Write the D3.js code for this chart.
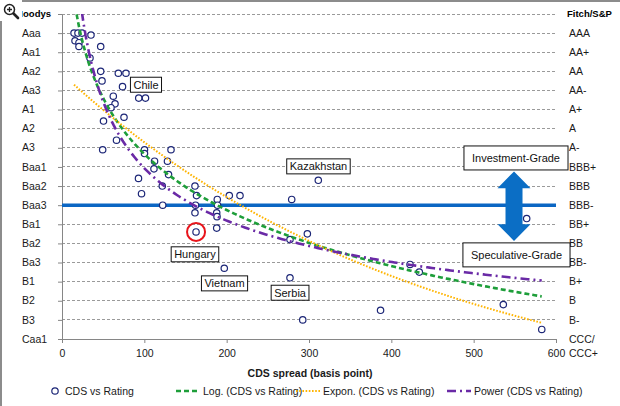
<!DOCTYPE html>
<html>
<head>
<meta charset="utf-8">
<script src="https://cdn.jsdelivr.net/npm/d3@7/dist/d3.min.js"></script>
<style>
body{margin:0;background:#fff;}
svg{display:block;font-family:"Liberation Sans",Arial,sans-serif;}
</style>
</head>
<body>
<svg id="chart" width="620" height="406"></svg>
<script>
var ratingLevels = [21,20,19,18,17,16,15,14,13,12,11,10,9,8,7,6,5,4];
var moodysLabels = ['Moodys','Aaa','Aa1','Aa2','Aa3','A1','A2','A3','Baa1','Baa2','Baa3','Ba1','Ba2','Ba3','B1','B2','B3','Caa1'];
var fitchLabels = ['Fitch/S&P','AAA','AA+','AA','AA-','A+','A','A-','BBB+','BBB','BBB-','BB+','BB','BB-','B+','B','B-','CCC/|CCC+'];
var xTicks = [0,100,200,300,400,500,600];

var cdsSpread = [14.6,19.4,24.3,35.2,15.8,20.6,20.6,47.0,34.0,47.0,
    68.4,77.7,48.6,73.5,62.3,93.2,101.4,64.4,59.5,75.3,
    50.4,66.2,49.4,100.2,132.4,100.2,112.4,128.1,111.7,129.4,
    92.9,121.8,161.5,96.6,163.4,188.6,203.2,216.2,279.0,311.3,
    122.3,162.2,188.9,161.5,187.9,188.3,187.9,162.8,298.0,276.9,
    197.1,276.9,292.4,386.9,422.7,434.0,536.0,564.4,582.7];
var ratingScore = [20.0,20.0,20.0,19.9,19.6,19.5,19.3,19.3,18.7,18.0,
    17.9,17.9,17.5,17.2,16.7,16.6,16.6,16.3,16.1,15.6,
    15.4,14.4,13.9,13.9,13.9,13.7,13.3,13.3,12.9,12.6,
    12.4,12.0,12.0,11.6,11.5,11.3,11.5,11.5,11.3,12.3,
    11.0,11.0,11.0,10.6,10.6,10.4,9.8,9.6,9.5,9.2,
    7.7,7.2,5.0,5.5,7.9,7.5,5.8,10.3,4.5];

var countryNames = ['Chile','Kazakhstan','Hungary','Vietnam','Serbia'];
var gradeNames = ['Investment-Grade','Speculative-Grade'];
var legendNames = ['CDS vs Rating','Log. (CDS vs Rating)','Expon. (CDS vs Rating)','Power (CDS vs Rating)'];
var gradeBorder = 11;      // Baa3 / BBB-
var highlighted = 47;      // Hungary

(function(){

    var svg = d3.select('#chart');
    var x = d3.scaleLinear().domain([0,600]).range([62,556]);
    var y = d3.scaleLinear().domain([4,21]).range([339,14]);

    var points = cdsSpread.map(function(c,i){ return {x:c, y:ratingScore[i]}; });

    // least squares, same as the spreadsheet trendlines
    var linFit = function(xs, ys){
        var mx = d3.mean(xs), my = d3.mean(ys), sxy = 0, sxx = 0;
        for (var i = 0; i < xs.length; i++) {
            sxy += (xs[i]-mx)*(ys[i]-my);
            sxx += (xs[i]-mx)*(xs[i]-mx);
        }
        var b = sxy/sxx;
        return {a: my - b*mx, b: b};
    };
    var lnX = cdsSpread.map(Math.log), lnY = ratingScore.map(Math.log);
    var fLog = linFit(lnX, ratingScore);
    var fExp = linFit(cdsSpread, lnY);
    var fPow = linFit(lnX, lnY);

    var trends = [
        {fn: function(v){ return fLog.a + fLog.b*Math.log(v); }, color:'#1e9e3a', dash:'5,3', w:2.6},
        {fn: function(v){ return Math.exp(fExp.a + fExp.b*v); }, color:'#ffb400', dash:'1.6,1.6', w:2},
        {fn: function(v){ return Math.exp(fPow.a)*Math.pow(v, fPow.b); }, color:'#6a2aa6', dash:'9,4,2,4', w:2.6}
    ];

    // frame
    svg.append('rect').attr('x',0).attr('y',0).attr('width',620).attr('height',2).attr('fill','#8c8c8c');
    svg.append('rect').attr('x',0).attr('y',0).attr('width',2).attr('height',406).attr('fill','#8c8c8c');

    // grid
    svg.append('g')
        .selectAll('line')
        .data(ratingLevels.slice(0,-1))
        .enter()
        .append('line')
        .attr('x1',62).attr('x2',556)
        .attr('y1',function(d){return y(d);}).attr('y2',function(d){return y(d);})
        .attr('stroke','#9a9a9a').attr('stroke-dasharray','3,2').attr('shape-rendering','crispEdges');

    var yAxis = svg.append('g')
        .attr('transform','translate(62,0)')
        .call(d3.axisLeft(y).tickValues(ratingLevels).tickSize(4).tickSizeOuter(0).tickFormat(''));
    var xAxis = svg.append('g')
        .attr('transform','translate(0,339)')
        .call(d3.axisBottom(x).tickValues(xTicks).tickSize(4).tickSizeOuter(0).tickPadding(7));
    svg.selectAll('.domain, .tick line').attr('stroke','#868686');
    xAxis.selectAll('text').attr('font-size','10.5px').attr('fill','#1a1a1a').attr('font-family','inherit');

    // rating labels
    svg.append('g')
        .selectAll('text')
        .data(ratingLevels.slice(1))
        .enter()
        .append('text')
        .attr('x',22)
        .attr('y',function(d){return y(d);})
        .attr('dy','0.35em')
        .attr('font-size','10.5px')
        .attr('fill','#1a1a1a')
        .text(function(d,i){return moodysLabels[i+1];});

    var right = svg.append('g')
        .selectAll('text')
        .data(ratingLevels.slice(1))
        .enter()
        .append('text')
        .attr('x',569)
        .attr('y',function(d){return y(d);})
        .attr('font-size','10.5px')
        .attr('fill','#1a1a1a');
    right.each(function(d,i){
        var parts = fitchLabels[i+1].split('|');
        var t = d3.select(this);
        parts.forEach(function(p,j){
            t.append('tspan').attr('x',569).attr('dy', j === 0 ? '0.35em' : '1.35em').text(p);
        });
    });

    svg.append('text').attr('x',51).attr('y',y(21)).attr('dy','0.35em')
        .attr('text-anchor','end').attr('font-size','9.5px').attr('font-weight','bold')
        .text(moodysLabels[0]);
    svg.append('text').attr('x',567).attr('y',y(21)).attr('dy','0.35em')
        .attr('font-size','9.5px').attr('font-weight','bold')
        .text(fitchLabels[0]);

    // investment / speculative border
    svg.append('line')
        .attr('x1',62).attr('x2',556)
        .attr('y1',y(gradeBorder)).attr('y2',y(gradeBorder))
        .attr('stroke','#0b66c3').attr('stroke-width',3.6);

    // points
    svg.append('g')
        .selectAll('circle')
        .data(points)
        .enter()
        .append('circle')
        .attr('cx',function(d){return x(d.x);})
        .attr('cy',function(d){return y(d.y);})
        .attr('r',3.2)
        .attr('fill','#fff')
        .attr('stroke','#1c2677')
        .attr('stroke-width',1.2);

    // trendlines
    svg.append('clipPath').attr('id','plotClip')
        .append('rect').attr('x',62).attr('y',14).attr('width',494).attr('height',325);
    var lo = d3.min(cdsSpread), hi = d3.max(cdsSpread);
    var xs = d3.range(0,201).map(function(i){ return lo + (hi-lo)*i/200; });
    var tg = svg.append('g').attr('clip-path','url(#plotClip)');
    trends.forEach(function(t){
        var line = d3.line()
            .x(function(v){return x(v);})
            .y(function(v){return y(t.fn(v));});
        tg.append('path')
            .attr('d', line(xs))
            .attr('fill','none')
            .attr('stroke',t.color)
            .attr('stroke-width',t.w)
            .attr('stroke-dasharray',t.dash);
    });

    // highlight ring
    svg.append('circle')
        .attr('cx',x(points[highlighted].x))
        .attr('cy',y(points[highlighted].y))
        .attr('r',9)
        .attr('fill','none')
        .attr('stroke','#e8141b')
        .attr('stroke-width',2);

    // callouts (box centres in data units)
    var calloutAt = [[102,17.3],[311.5,13.03],[161.5,8.43],[197.4,6.91],[277,6.42]];
    var drawBox = function(label, cx, cy, padX, h){
        var g = svg.append('g');
        var r = g.append('rect');
        var t = g.append('text')
            .attr('x',cx).attr('y',cy).attr('dy','0.35em')
            .attr('text-anchor','middle')
            .attr('font-size','11px')
            .attr('fill','#111')
            .text(label);
        var w = t.node().getComputedTextLength() + padX*2;
        r.attr('x',cx-w/2).attr('y',cy-h/2).attr('width',w).attr('height',h)
            .attr('fill','#fff').attr('stroke','#111').attr('stroke-width',1);
    };
    countryNames.forEach(function(n,i){
        drawBox(n, x(calloutAt[i][0]), y(calloutAt[i][1]), 3, 15);
    });

    // grade arrow
    var ax = x(549), top = y(12.76), bot = y(9.13), hw = 16.5, hh = 16.7, sw = 8.5;
    svg.append('path')
        .attr('d', 'M'+ax+','+top+
            'L'+(ax+hw)+','+(top+hh)+'L'+(ax+sw)+','+(top+hh)+
            'L'+(ax+sw)+','+(bot-hh)+'L'+(ax+hw)+','+(bot-hh)+
            'L'+ax+','+bot+
            'L'+(ax-hw)+','+(bot-hh)+'L'+(ax-sw)+','+(bot-hh)+
            'L'+(ax-sw)+','+(top+hh)+'L'+(ax-hw)+','+(top+hh)+'Z')
        .attr('fill','#0b6ec5');

    var gradeAt = [[551.4,13.47],[552,8.4]];
    gradeNames.forEach(function(n,i){
        drawBox(n, x(gradeAt[i][0]), y(gradeAt[i][1]), 8, 24);
    });

    // axis title
    svg.append('text')
        .attr('x',310).attr('y',377)
        .attr('text-anchor','middle')
        .attr('font-size','10.5px').attr('font-weight','bold')
        .attr('fill','#1a1a1a')
        .text('CDS spread (basis point)');

    // legend
    var legendX = [50,176,296,447];
    var ly = 391;
    legendNames.forEach(function(n,i){
        var g = svg.append('g');
        var tx;
        if (i === 0) {
            g.append('circle').attr('cx',legendX[i]+5).attr('cy',ly).attr('r',3.2)
                .attr('fill','#fff').attr('stroke','#1c2677').attr('stroke-width',1.2);
            tx = legendX[i] + 15;
        } else {
            var t = trends[i-1];
            g.append('line').attr('x1',legendX[i]).attr('x2',legendX[i]+24)
                .attr('y1',ly).attr('y2',ly)
                .attr('stroke',t.color).attr('stroke-width',t.w).attr('stroke-dasharray',t.dash);
            tx = legendX[i] + 27;
        }
        g.append('text').attr('x',tx).attr('y',ly).attr('dy','0.35em')
            .attr('font-size','10.5px').attr('fill','#1a1a1a').text(n);
    });

    // zoom glyph in the corner
    var ic = svg.append('g');
    ic.append('rect').attr('x',0).attr('y',0).attr('width',22).attr('height',21).attr('fill','#fff');
    ic.append('line').attr('x1',13).attr('y1',13).attr('x2',18).attr('y2',18)
        .attr('stroke','#222').attr('stroke-width',2.6).attr('stroke-linecap','round');
    ic.append('circle').attr('cx',9.5).attr('cy',9.5).attr('r',5)
        .attr('fill','#fff').attr('stroke','#222').attr('stroke-width',1.5);
    ic.append('path').attr('d','M7,9.5H12M9.5,7V12').attr('stroke','#222').attr('stroke-width',1.3);

})();
</script>
</body>
</html>
